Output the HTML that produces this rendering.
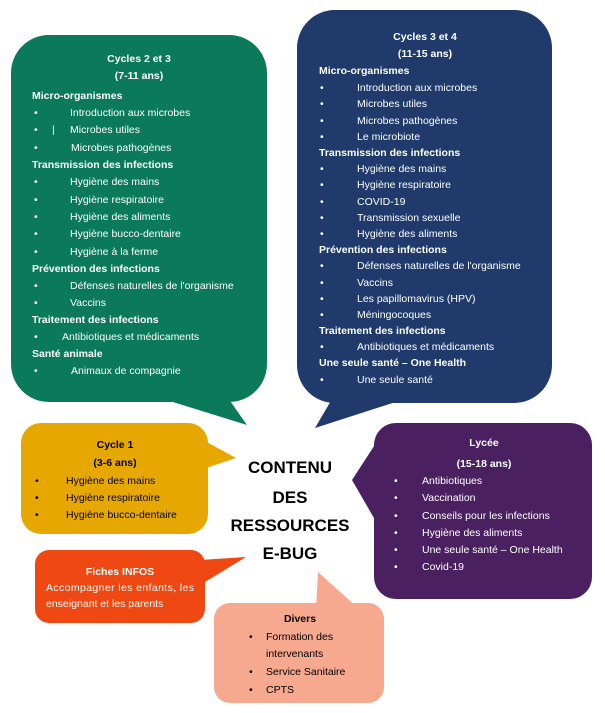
<!DOCTYPE html>
<html><head><meta charset="utf-8"><style>
html,body{margin:0;padding:0;background:#fff;width:605px;height:713px;overflow:hidden}
svg{display:block}
text{font-family:"Liberation Sans",sans-serif;font-size:10.5px}
.w{fill:#fff}.k{fill:#000}
.b{font-weight:bold}
text.big{font-size:17px;font-weight:bold}
</style></head><body>
<svg width="605" height="713" viewBox="0 0 605 713">
<rect x="11" y="35" width="256" height="367" rx="38" fill="#0a7a5a"/>
<polygon points="160,398 228,398 247,425" fill="#0a7a5a"/>
<rect x="297" y="10" width="255" height="393" rx="38" fill="#1f3a6b"/>
<polygon points="332,399 405,399 315,428" fill="#1f3a6b"/>
<rect x="21" y="423" width="187" height="111" rx="20" fill="#e6a800"/>
<polygon points="203,440 203,469 236,458" fill="#e6a800"/>
<rect x="374" y="423" width="218" height="176" rx="22" fill="#4a2060"/>
<polygon points="378,440 378,525 352,480" fill="#4a2060"/>
<rect x="35" y="550" width="170" height="73" rx="14" fill="#f04812"/>
<polygon points="200,560 200,585 246,557" fill="#f04812"/>
<rect x="214" y="603" width="170" height="100" rx="16" fill="#f7a98f"/>
<polygon points="316,608 358,608 318,572" fill="#f7a98f"/>

<g class="w">
<text x="139" y="62" text-anchor="middle" class="b">Cycles 2 et 3</text>
<text x="139" y="79" text-anchor="middle" class="b">(7-11 ans)</text>
<text x="32" y="99" class="b">Micro-organismes</text>
<text x="34" y="116">•</text><text x="70" y="116">Introduction aux microbes</text>
<text x="34" y="133">•</text><text x="52" y="133">|</text><text x="70" y="133">Microbes utiles</text>
<text x="34" y="151">•</text><text x="71" y="151">Microbes pathogènes</text>
<text x="32" y="168" class="b">Transmission des infections</text>
<text x="34" y="185">•</text><text x="70" y="185">Hygiène des mains</text>
<text x="34" y="203">•</text><text x="70" y="203">Hygiène respiratoire</text>
<text x="34" y="220">•</text><text x="70" y="220">Hygiène des aliments</text>
<text x="34" y="237">•</text><text x="70" y="237">Hygiène bucco-dentaire</text>
<text x="34" y="255">•</text><text x="70" y="255">Hygiène à la ferme</text>
<text x="32" y="272" class="b">Prévention des infections</text>
<text x="34" y="289">•</text><text x="70" y="289">Défenses naturelles de l'organisme</text>
<text x="34" y="306">•</text><text x="70" y="306">Vaccins</text>
<text x="32" y="323" class="b">Traitement des infections</text>
<text x="34" y="340">•</text><text x="62" y="340">Antibiotiques et médicaments</text>
<text x="32" y="357" class="b">Santé animale</text>
<text x="34" y="374">•</text><text x="71" y="374">Animaux de compagnie</text>

<text x="425" y="40" text-anchor="middle" class="b">Cycles 3 et 4</text>
<text x="425" y="57" text-anchor="middle" class="b">(11-15 ans)</text>
<text x="319" y="74" class="b">Micro-organismes</text>
<text x="320" y="91">•</text><text x="357" y="91">Introduction aux microbes</text>
<text x="320" y="107">•</text><text x="357" y="107">Microbes utiles</text>
<text x="320" y="124">•</text><text x="357" y="124">Microbes pathogènes</text>
<text x="320" y="140">•</text><text x="357" y="140">Le microbiote</text>
<text x="319" y="156" class="b">Transmission des infections</text>
<text x="320" y="172">•</text><text x="357" y="172">Hygiène des mains</text>
<text x="320" y="188">•</text><text x="357" y="188">Hygiène respiratoire</text>
<text x="320" y="205">•</text><text x="357" y="205">COVID-19</text>
<text x="320" y="221">•</text><text x="357" y="221">Transmission sexuelle</text>
<text x="320" y="237">•</text><text x="357" y="237">Hygiène des aliments</text>
<text x="319" y="253" class="b">Prévention des infections</text>
<text x="320" y="269">•</text><text x="357" y="269">Défenses naturelles de l'organisme</text>
<text x="320" y="286">•</text><text x="357" y="286">Vaccins</text>
<text x="320" y="302">•</text><text x="357" y="302">Les papillomavirus (HPV)</text>
<text x="320" y="318">•</text><text x="357" y="318">Méningocoques</text>
<text x="319" y="334" class="b">Traitement des infections</text>
<text x="320" y="350">•</text><text x="357" y="350">Antibiotiques et médicaments</text>
<text x="319" y="366" class="b">Une seule santé – One Health</text>
<text x="320" y="383">•</text><text x="357" y="383">Une seule santé</text>

<text x="484" y="446" text-anchor="middle" class="b">Lycée</text>
<text x="484" y="467" text-anchor="middle" class="b">(15-18 ans)</text>
<text x="394" y="484">•</text><text x="422" y="484">Antibiotiques</text>
<text x="394" y="501">•</text><text x="422" y="501">Vaccination</text>
<text x="394" y="519">•</text><text x="422" y="519">Conseils pour les infections</text>
<text x="394" y="536">•</text><text x="422" y="536">Hygiène des aliments</text>
<text x="394" y="553">•</text><text x="422" y="553">Une seule santé – One Health</text>
<text x="394" y="570">•</text><text x="422" y="570">Covid-19</text>

<text x="120" y="575" text-anchor="middle" class="b">Fiches INFOS</text>
<text x="46" y="591" textLength="148" lengthAdjust="spacing">Accompagner les enfants, les</text>
<text x="46" y="607">enseignant et les parents</text>
</g>

<g class="k">
<text x="115" y="448" text-anchor="middle" class="b">Cycle 1</text>
<text x="115" y="466" text-anchor="middle" class="b">(3-6 ans)</text>
<text x="35" y="484">•</text><text x="66" y="484">Hygiène des mains</text>
<text x="35" y="501">•</text><text x="66" y="501">Hygiène respiratoire</text>
<text x="35" y="518">•</text><text x="66" y="518">Hygiène bucco-dentaire</text>

<text x="300" y="622" text-anchor="middle" class="b">Divers</text>
<text x="249" y="640">•</text><text x="266" y="640">Formation des</text>
<text x="266" y="657">intervenants</text>
<text x="249" y="675">•</text><text x="266" y="675">Service Sanitaire</text>
<text x="249" y="693">•</text><text x="266" y="693">CPTS</text>

<text class="big" x="290" y="473" text-anchor="middle">CONTENU</text>
<text class="big" x="290" y="503" text-anchor="middle">DES</text>
<text class="big" x="290" y="531" text-anchor="middle">RESSOURCES</text>
<text class="big" x="290" y="559" text-anchor="middle">E-BUG</text>
</g>
</svg>
</body></html>
